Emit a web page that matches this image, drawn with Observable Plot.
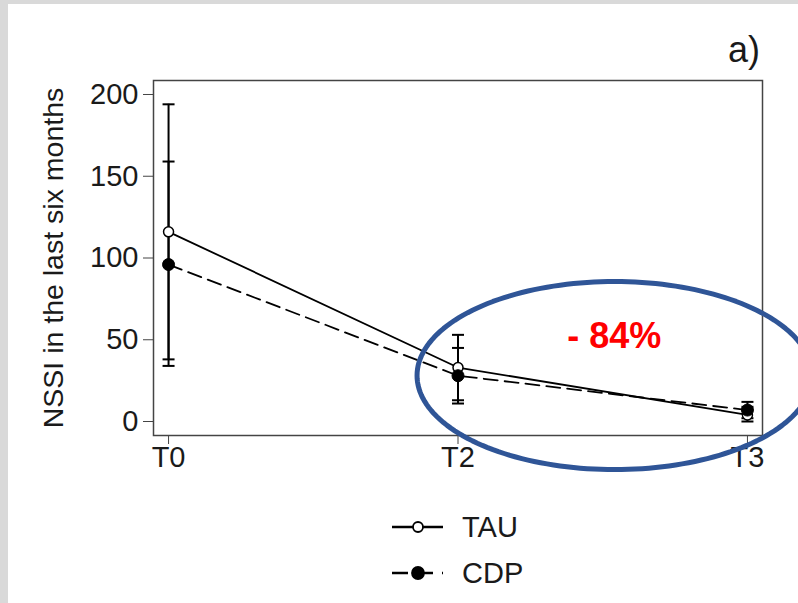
<!DOCTYPE html>
<html><head><meta charset="utf-8">
<script src="https://cdn.jsdelivr.net/npm/d3@7"></script>
<script src="https://cdn.jsdelivr.net/npm/@observablehq/plot@0.6"></script>
<style>
html,body{margin:0;padding:0;background:#fff;width:798px;height:603px;overflow:hidden;font-family:"Liberation Sans",Arial,sans-serif;color:#1a1a1a}
#gl{position:absolute;left:0;top:0;width:8px;height:603px;background:#d9d9d9}
#gt{position:absolute;left:0;top:0;width:798px;height:4px;background:#d9d9d9}
#chart{position:absolute;left:0;top:0}
#tag{position:absolute;right:38px;top:32px;font-size:36px;line-height:36px}
#legend{position:absolute;left:390px;top:504px}
.item{display:flex;align-items:center;height:46px}
.item span{font-size:29px;margin-left:16px;line-height:29px}
</style></head><body>
<div id="gl"></div><div id="gt"></div>
<div id="chart"></div>
<div id="tag">a)</div>
<div id="legend"></div>
<script>
const timepoints = ["T0", "T2", "T3"];
const tauMean = [116, 33, 4];
const tauLow = [38, 13, 0];
const tauHigh = [194, 53, 9];
const cdpMean = [96, 28, 7];
const cdpLow = [34, 11, 2];
const cdpHigh = [159, 45, 12];
const yTicks = [0, 50, 100, 150, 200];
const yLabel = "NSSI in the last six months";
const reductionLabel = "- 84%";
const reductionPos = {x: 1.54, y: 52};
const highlight = {cx: 1.541, cy: 28.1, rx: 0.6825, ry: 57.5};

const series = [
  {name: "TAU", mean: tauMean, low: tauLow, high: tauHigh, dash: null, fill: "white", r: 5},
  {name: "CDP", mean: cdpMean, low: cdpLow, high: cdpHigh, dash: "14,7", fill: "black", r: 6}
];
const rows = series.flatMap(s => timepoints.map((t, i) => ({series: s.name, i, mean: s.mean[i], low: s.low[i], high: s.high[i]})));
const tauRows = rows.filter(d => d.series === "TAU");
const cdpRows = rows.filter(d => d.series === "CDP");

const ellipsePts = d3.range(0, 361, 2).map(a => {
  const t = a * Math.PI / 180;
  return {x: highlight.cx + highlight.rx * Math.cos(t), y: highlight.cy + highlight.ry * Math.sin(t)};
});

const capSymbol = {
  draw(context, size) {
    const w = Math.sqrt(size / Math.PI);
    context.moveTo(-w, 0);
    context.lineTo(w, 0);
  }
};

const plot = Plot.plot({
  width: 798,
  height: 500,
  marginLeft: 153,
  marginRight: 36,
  marginTop: 80,
  marginBottom: 65,
  x: {type: "linear", domain: [-0.052, 2.052]},
  y: {domain: [-8.56, 208.56]},
  style: {fontFamily: "Liberation Sans, Arial, sans-serif", background: "transparent", overflow: "visible", color: "#1a1a1a"},
  marks: [
    Plot.axisY({ticks: yTicks, tickSize: 10, tickPadding: 5, fontSize: 29, label: null, stroke: "#444"}),
    Plot.axisX({ticks: [0, 1, 2], tickFormat: i => timepoints[i], tickSize: 9, tickPadding: 2, fontSize: 29, label: null, stroke: "#444"}),
    Plot.text([yLabel], {text: d => d, frameAnchor: "left", rotate: -90, dx: -100, fontSize: 28.5, textAnchor: "middle", lineAnchor: "middle"}),
    Plot.ruleX(rows, {x: "i", y1: "low", y2: "high", stroke: "black", strokeWidth: 2}),
    Plot.dot(rows, {x: "i", y: "low", symbol: capSymbol, r: 6, fill: "none", stroke: "black", strokeWidth: 2}),
    Plot.dot(rows, {x: "i", y: "high", symbol: capSymbol, r: 6, fill: "none", stroke: "black", strokeWidth: 2}),
    Plot.line(tauRows, {x: "i", y: "mean", stroke: "black", strokeWidth: 1.8}),
    Plot.line(cdpRows, {x: "i", y: "mean", stroke: "black", strokeWidth: 1.8, strokeDasharray: "14,7"}),
    Plot.dot(tauRows, {x: "i", y: "mean", r: 5, fill: "white", stroke: "black", strokeWidth: 1.5}),
    Plot.dot(cdpRows, {x: "i", y: "mean", r: 6, fill: "black", stroke: "black", strokeWidth: 1}),
    Plot.frame({stroke: "#444", strokeWidth: 1.5}),
    Plot.line(ellipsePts, {x: "x", y: "y", stroke: "#2F5597", strokeWidth: 5, curve: "linear-closed"}),
    Plot.text([reductionLabel], {text: d => d, x: () => reductionPos.x, y: () => reductionPos.y, fill: "#ff0000", fontSize: 36, fontWeight: "bold", textAnchor: "middle", lineAnchor: "middle"})
  ]
});
document.getElementById("chart").appendChild(plot);

const legend = document.getElementById("legend");
for (const s of series) {
  const item = document.createElement("div");
  item.className = "item";
  const svg = d3.create("svg").attr("width", 56).attr("height", 30);
  svg.append("line").attr("x1", 2).attr("x2", 53).attr("y1", 15).attr("y2", 15)
    .attr("stroke", "black").attr("stroke-width", 2.5).attr("stroke-dasharray", s.dash ? "16,9" : null);
  svg.append("circle").attr("cx", 28).attr("cy", 15).attr("r", s.r)
    .attr("fill", s.fill).attr("stroke", "black").attr("stroke-width", 1.8);
  item.appendChild(svg.node());
  const label = document.createElement("span");
  label.textContent = s.name;
  item.appendChild(label);
  legend.appendChild(item);
}
</script>
</body></html>
